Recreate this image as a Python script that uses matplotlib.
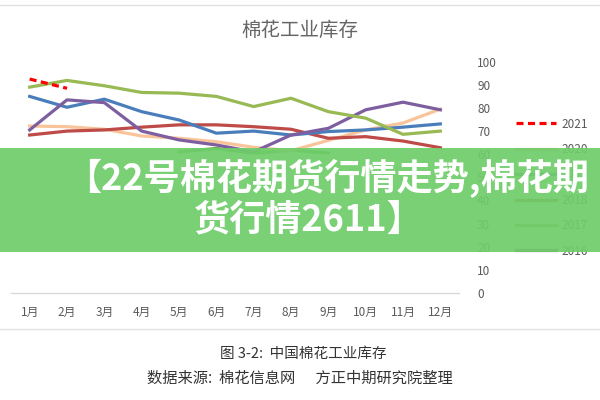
import numpy as np
import matplotlib
matplotlib.use("Agg")
import matplotlib.pyplot as plt
from matplotlib.lines import Line2D
from matplotlib.patches import Rectangle

plt.rcParams['font.family'] = ['Noto Sans CJK SC', 'DejaVu Sans']

# data (nan = hidden by the banner)
months = ['1月', '2月', '3月', '4月', '5月', '6月', '7月', '8月', '9月', '10月', '11月', '12月']
y2021 = [92.5, 88.5]
y2020 = [72.2, 71.9, 70.8, 67.9, 66.9, 65.4, 63.0, 61.5, 66.0, 70.5, 73.5, 79.5]
y2019 = [85.0, 80.3, 83.8, 78.4, 74.8, 69.1, 70.0, 68.3, 69.8, 70.5, 71.7, 73.1]
y2018 = [68.3, 70.0, 70.5, 71.7, 72.7, 72.7, 71.9, 70.8, 66.9, 67.6, 65.7, 62.8]
y2017 = [89.0, 91.9, 89.6, 86.7, 86.4, 85.0, 80.6, 84.2, 78.4, 75.6, 68.6, 70.0]
y2016 = [70.5, 83.5, 82.3, 70.0, 66.2, 64.0, 61.0, 68.3, 71.2, 79.2, 82.5, 79.2]
y_low = [np.nan, np.nan, np.nan, np.nan, 61.0, 62.5, 60.4, 61.8, 60.5, np.nan, np.nan, np.nan]
yticks = [0, 10, 20, 30, 40, 50, 60, 70, 80, 90, 100]

W, H = 600, 400
fig = plt.figure(figsize=(6, 4), dpi=100)
fig.patch.set_facecolor('white')

def fx(px):
    return px / W

def fy(py):
    return 1 - py / H

ax = fig.add_axes([fx(11), fy(293), fx(459) - fx(11), fy(61.7) - fy(293)])
x = np.arange(len(months))

lw = 2.3
ax.plot(x, y_low, color='#6aae4a', lw=lw, label='_low')
ax.plot(x, y2020, color='#f9c49a', lw=lw, label='2020')
ax.plot(x, y2018, color='#be4b48', lw=lw, label='2018')
ax.plot(x, y2019, color='#4a7ebb', lw=lw, label='2019')
ax.plot(x, y2016, color='#7d5fa0', lw=lw, label='2016')
ax.plot(x, y2017, color='#98b954', lw=lw, label='2017')
ax.plot(x[:len(y2021)], y2021, color='#ff0000', lw=lw, ls=(0, (2.2, 1.4)), label='2021')

ax.set_xlim(-0.5, len(months) - 0.5)
ax.set_ylim(0, 100)
ax.set_xticks(x)
ax.set_xticklabels(months, fontsize=8.5, color='#595959')
ax.set_yticks(yticks)
ax.set_yticklabels([str(v) for v in yticks], fontsize=8.5, color='#595959', ha='left')
ax.yaxis.tick_right()
ax.tick_params(axis='both', length=0)
ax.tick_params(axis='y', pad=13)
ax.tick_params(axis='x', pad=9)
for s in ['top', 'right', 'left']:
    ax.spines[s].set_visible(False)
ax.spines['bottom'].set_color('#d9d9d9')
ax.spines['bottom'].set_linewidth(1.0)

# legend in year order
h, l = ax.get_legend_handles_labels()
order = ['2021', '2020', '2019', '2018', '2017', '2016']
hs = [h[l.index(k)] for k in order]
fig.legend(hs, order, loc='upper left', bbox_to_anchor=(fx(505), fy(107)),
           frameon=False, fontsize=8.5, handlelength=3.4, handletextpad=0.5,
           labelspacing=1.05, labelcolor='#595959')

fig.text(0.5, fy(30), '棉花工业库存', ha='center', va='center', fontsize=14, color='#666666')

# frame lines of the original figure
fig.add_artist(Line2D([0, 1], [fy(5), fy(5)], color='#e3e3e3', lw=1))
fig.add_artist(Line2D([0, 1], [fy(329), fy(329)], color='#e3e3e3', lw=1))

fig.text(0.505, fy(354), '图 3-2:  中国棉花工业库存', ha='center', va='center', fontsize=10.5, color='#333333')
fig.text(0.5, fy(378), '数据来源:  棉花信息网      方正中期研究院整理', ha='center', va='center',
         fontsize=11, color='#333333')

# green banner
fig.patches.append(Rectangle((0, fy(252)), 1, fy(148) - fy(252), transform=fig.transFigure,
                             facecolor='#6fcd6a', alpha=0.93, edgecolor='none', zorder=10))
fig.text(0.545, fy(179), '【22号棉花期货行情走势,棉花期', ha='center', va='center', fontsize=26,
         color='white', fontweight='bold', zorder=11)
fig.text(0.515, fy(220), '货行情2611】', ha='center', va='center', fontsize=26,
         color='white', fontweight='bold', zorder=11)

fig.savefig('out.png', dpi=100)
